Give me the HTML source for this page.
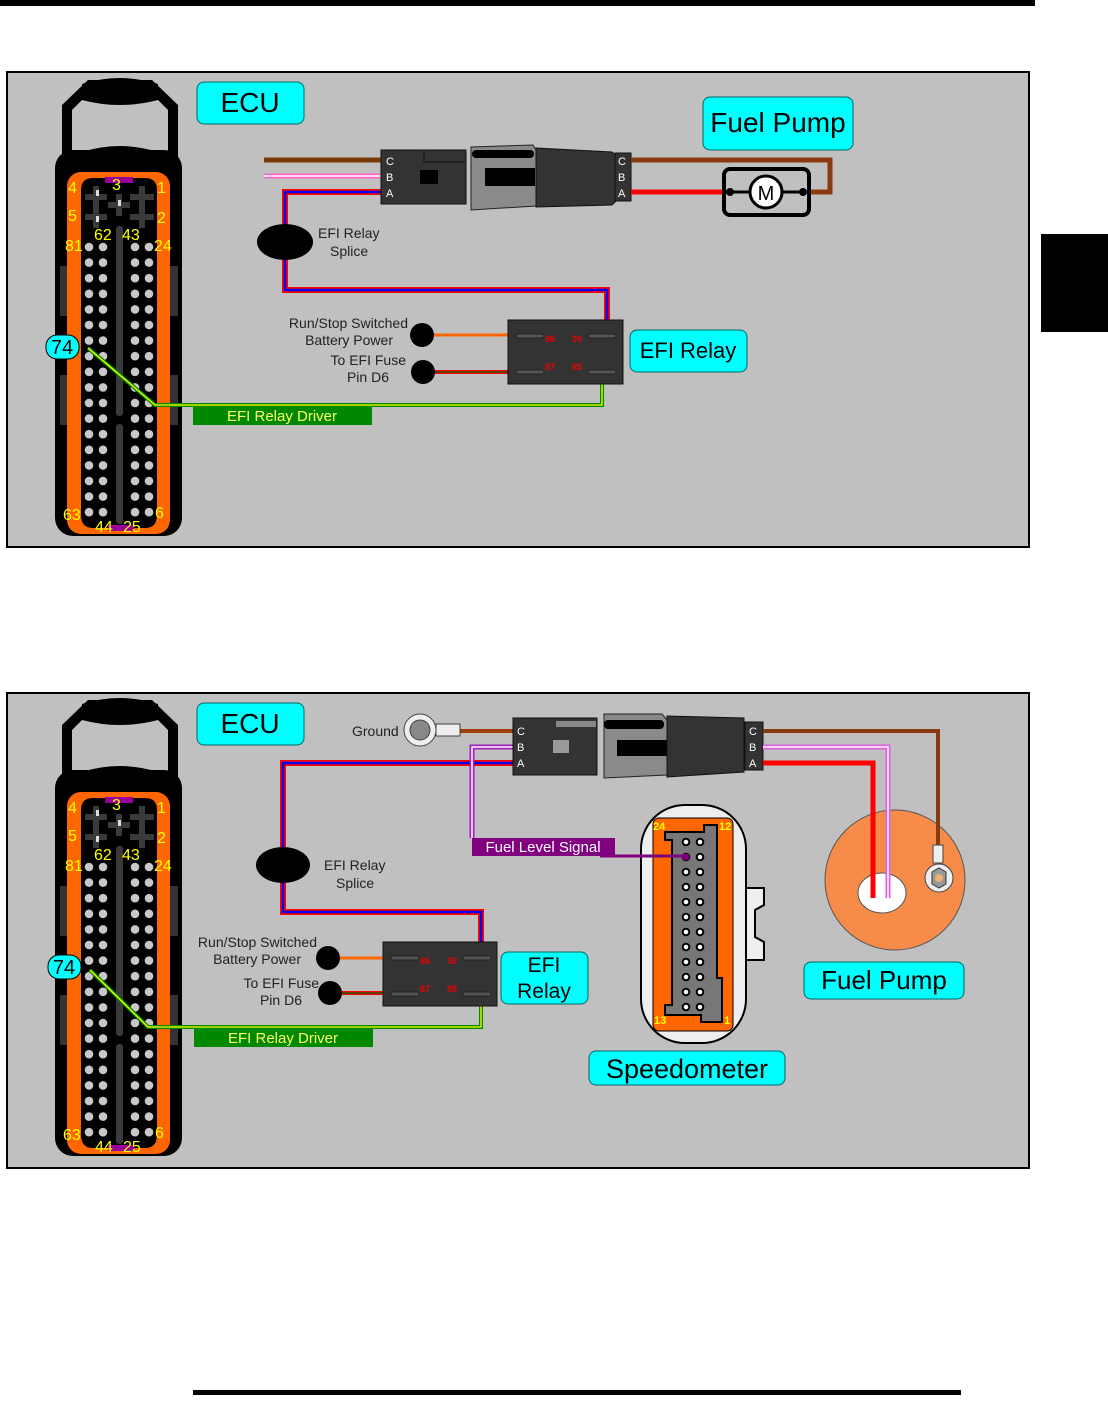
<!DOCTYPE html>
<html><head><meta charset="utf-8"><style>
html,body{margin:0;padding:0;background:#fff}
svg{display:block}
text{font-family:"Liberation Sans",Arial,sans-serif}
</style></head><body>
<svg width="1108" height="1412" viewBox="0 0 1108 1412" xmlns="http://www.w3.org/2000/svg">
<defs>
<g id="ecu">
  <path d="M62,158 L62,105 L88,80 L152,80 L178,105 L178,158 L168,158 L168,110 L150,92 L90,92 L72,110 L72,158 Z" fill="#000"/>
  <path d="M82,84 Q120,72 158,84 L158,100 Q120,110 82,100 Z" fill="#000"/>
  <rect x="55" y="150" width="127" height="386" rx="18" fill="#000"/>
  <path d="M82,152 Q120,140 158,152 L158,165 L82,165 Z" fill="#000"/>
  <rect x="60" y="266" width="8" height="50" fill="#333"/>
  <rect x="170" y="266" width="8" height="50" fill="#333"/>
  <rect x="60" y="375" width="8" height="50" fill="#333"/>
  <rect x="170" y="375" width="8" height="50" fill="#333"/>
  <rect x="67" y="172" width="103" height="362" rx="14" fill="#ff6600"/>
  <path d="M81,190 Q81,178 93,178 L145,178 Q157,178 157,190 L157,515 Q157,528 145,528 L93,528 Q81,528 81,515 Z" fill="#000"/>
  <rect x="105" y="177" width="28" height="6" fill="#990099"/>
  <rect x="108" y="525" width="26" height="6" fill="#990099"/>
  <g fill="#3a3a3a">
    <rect x="85" y="194" width="22" height="6"/><rect x="93" y="186" width="6" height="22"/>
    <rect x="85" y="214" width="22" height="6"/><rect x="93" y="206" width="6" height="22"/>
    <rect x="108" y="202" width="22" height="6"/><rect x="116" y="194" width="6" height="22"/>
    <rect x="130" y="194" width="24" height="6"/><rect x="139" y="186" width="6" height="22"/>
    <rect x="130" y="214" width="24" height="6"/><rect x="139" y="206" width="6" height="22"/>
    <rect x="116" y="226" width="7" height="190" rx="3"/>
    <rect x="116" y="424" width="7" height="100" rx="3"/>
  </g>
  <g fill="#ddd">
    <rect x="96" y="190" width="3" height="6"/><rect x="96" y="216" width="3" height="6"/><rect x="118" y="200" width="3" height="6"/>
  </g>
</g>
</defs>

<rect x="0" y="0" width="1035" height="6" fill="#000"/>
<rect x="1041" y="234" width="67" height="98" fill="#000"/>
<rect x="193" y="1390" width="768" height="5" fill="#000"/>

<!-- ================= PANEL 1 ================= -->
<rect x="7" y="72" width="1022" height="475" fill="#c0c0c0" stroke="#000" stroke-width="2"/>
<use href="#ecu"/>
<g fill="#c8c8c8" id="pingrid"></g>

<line x1="264" y1="160" x2="382" y2="160" stroke="#7a3a00" stroke-width="5"/>
<line x1="264" y1="176" x2="382" y2="176" stroke="#ff66cc" stroke-width="5"/>
<line x1="264" y1="176" x2="382" y2="176" stroke="#fff" stroke-width="1.5"/>
<polyline points="382,192 285,192 285,290 607,290 607,320" fill="none" stroke="#ff0000" stroke-width="6"/>
<polyline points="382,192 285,192 285,290 607,290 607,320" fill="none" stroke="#0000ee" stroke-width="2.5"/>
<ellipse cx="285" cy="242" rx="28" ry="18" fill="#000"/>
<text x="318" y="238" font-size="14" fill="#222">EFI Relay</text>
<text x="330" y="256" font-size="14" fill="#222">Splice</text>
<rect x="381" y="150" width="85" height="54" fill="#333" stroke="#111"/>
<rect x="424" y="150" width="42" height="12" fill="#333" stroke="#111"/>
<rect x="420" y="170" width="18" height="14" fill="#000"/>
<text x="386" y="165" font-size="11" fill="#fff">C</text>
<text x="386" y="181" font-size="11" fill="#fff">B</text>
<text x="386" y="197" font-size="11" fill="#fff">A</text>
<path d="M471,147 L533,145 L536,150 L536,206 L471,210 Z" fill="#8a8a8a" stroke="#222"/>
<rect x="472" y="150" width="62" height="8" rx="4" fill="#000"/>
<rect x="485" y="168" width="50" height="18" fill="#000"/>
<path d="M536,148 L612,152 L617,156 L617,200 L612,205 L536,207 Z" fill="#333" stroke="#111"/>
<rect x="615" y="153" width="16" height="48" fill="#333" stroke="#111"/>
<text x="618" y="165" font-size="11" fill="#fff">C</text>
<text x="618" y="181" font-size="11" fill="#fff">B</text>
<text x="618" y="197" font-size="11" fill="#fff">A</text>
<polyline points="631,160 830,160 830,192 808,192" fill="none" stroke="#8a3a10" stroke-width="5"/>
<line x1="631" y1="192" x2="724" y2="192" stroke="#ff0000" stroke-width="5"/>
<rect x="724" y="169" width="85" height="46" rx="6" fill="none" stroke="#000" stroke-width="4"/>
<line x1="724" y1="192" x2="809" y2="192" stroke="#000" stroke-width="3"/>
<circle cx="730" cy="192" r="4" fill="#000"/><circle cx="803" cy="192" r="4" fill="#000"/>
<circle cx="766" cy="192" r="16" fill="#fff" stroke="#000" stroke-width="3"/>
<text x="766" y="200" font-size="20" fill="#000" text-anchor="middle">M</text>
<line x1="422" y1="335" x2="508" y2="335" stroke="#ff6600" stroke-width="3"/>
<line x1="422" y1="372" x2="508" y2="372" stroke="#ff0000" stroke-width="4"/>
<line x1="422" y1="372" x2="508" y2="372" stroke="#006600" stroke-width="1.2"/>
<circle cx="422" cy="335" r="12" fill="#000"/>
<circle cx="423" cy="372" r="12" fill="#000"/>
<text x="408" y="328" font-size="14" fill="#222" text-anchor="end">Run/Stop Switched</text>
<text x="393" y="345" font-size="14" fill="#222" text-anchor="end">Battery Power</text>
<text x="406" y="365" font-size="14" fill="#222" text-anchor="end">To EFI Fuse</text>
<text x="389" y="382" font-size="14" fill="#222" text-anchor="end">Pin D6</text>
<polyline points="602,384 602,405 155,405 88,348" fill="none" stroke="#008800" stroke-width="4"/>
<polyline points="602,384 602,405 155,405 88,348" fill="none" stroke="#ffff00" stroke-width="1.3"/>
<rect x="508" y="320" width="115" height="64" fill="#333" stroke="#111"/>
<g fill="#555" stroke="#222"><rect x="516" y="334" width="28" height="4" rx="2"/><rect x="588" y="334" width="28" height="4" rx="2"/><rect x="516" y="370" width="28" height="4" rx="2"/><rect x="588" y="370" width="28" height="4" rx="2"/></g>
<g font-size="9" font-weight="bold" fill="#ee0000"><text x="545" y="342">86</text><text x="572" y="342">30</text><text x="545" y="370">87</text><text x="572" y="370">85</text></g>
<rect x="197" y="82" width="107" height="42" rx="7" fill="#00ffff" stroke="#006666"/>
<text x="250" y="112" font-size="28" text-anchor="middle" fill="#000">ECU</text>
<rect x="703" y="97" width="150" height="53" rx="7" fill="#00ffff" stroke="#006666"/>
<text x="778" y="132" font-size="28" text-anchor="middle" fill="#000">Fuel Pump</text>
<rect x="630" y="330" width="117" height="42" rx="7" fill="#00ffff" stroke="#006666"/>
<text x="688" y="358" font-size="22" text-anchor="middle" fill="#000">EFI Relay</text>
<rect x="193" y="407" width="179" height="18" fill="#008800"/>
<text x="282" y="421" font-size="15" text-anchor="middle" fill="#ffff66">EFI Relay Driver</text>
<rect x="46" y="335" width="33" height="24" rx="11" fill="#00ffff" stroke="#000"/>
<text x="62" y="354" font-size="20" text-anchor="middle" fill="#000">74</text>
<g font-size="16" fill="#ffff00">
<text x="68" y="193">4</text><text x="112" y="190">3</text><text x="157" y="193">1</text>
<text x="68" y="221">5</text><text x="157" y="223">2</text>
<text x="65" y="251">81</text><text x="94" y="240">62</text><text x="122" y="240">43</text><text x="154" y="251">24</text>
<text x="63" y="520">63</text><text x="155" y="518">6</text><text x="95" y="532">44</text><text x="123" y="532">25</text>
</g>

<!-- ================= PANEL 2 ================= -->
<rect x="7" y="693" width="1022" height="475" fill="#c0c0c0" stroke="#000" stroke-width="2"/>
<use href="#ecu" y="620"/>
<g id="pingrid2" fill="#c8c8c8"></g>

<polyline points="460,731 513,731" fill="none" stroke="#a0400a" stroke-width="4"/>
<text x="352" y="736" font-size="14" fill="#222">Ground</text>
<circle cx="420" cy="730" r="16" fill="#eee" stroke="#444"/>
<circle cx="420" cy="730" r="10" fill="#888" stroke="#444"/>
<rect x="436" y="724" width="24" height="12" fill="#eee" stroke="#444"/>
<polyline points="513,763 283,763 283,912 481,912 481,942" fill="none" stroke="#ff0000" stroke-width="6"/>
<polyline points="513,763 283,763 283,912 481,912 481,942" fill="none" stroke="#0000ee" stroke-width="2.5"/>
<polyline points="513,747 472,747 472,838" fill="none" stroke="#a020c0" stroke-width="5"/>
<polyline points="513,747 472,747 472,838" fill="none" stroke="#fff" stroke-width="1.5"/>
<ellipse cx="283" cy="865" rx="27" ry="18" fill="#000"/>
<text x="324" y="870" font-size="14" fill="#222">EFI Relay</text>
<text x="336" y="888" font-size="14" fill="#222">Splice</text>
<rect x="513" y="718" width="84" height="57" fill="#333" stroke="#111"/>
<rect x="556" y="721" width="40" height="6" fill="#888"/>
<rect x="553" y="740" width="16" height="13" fill="#999"/>
<text x="517" y="735" font-size="11" fill="#fff">C</text>
<text x="517" y="751" font-size="11" fill="#fff">B</text>
<text x="517" y="767" font-size="11" fill="#fff">A</text>
<path d="M604,714 L662,714 L667,720 L667,775 L604,778 Z" fill="#8a8a8a" stroke="#222"/>
<rect x="604" y="720" width="60" height="9" rx="4" fill="#000"/>
<rect x="617" y="740" width="50" height="16" fill="#000"/>
<path d="M667,716 L744,718 L744,772 L667,777 Z" fill="#333" stroke="#111"/>
<rect x="745" y="722" width="18" height="48" fill="#333" stroke="#111"/>
<text x="749" y="735" font-size="11" fill="#fff">C</text>
<text x="749" y="751" font-size="11" fill="#fff">B</text>
<text x="749" y="767" font-size="11" fill="#fff">A</text>
<!-- fuel pump -->
<circle cx="895" cy="880" r="70" fill="#f78c4a" stroke="#555"/>
<ellipse cx="882" cy="893" rx="24" ry="20" fill="#fff" stroke="#555"/>
<polyline points="763,731 938,731 938,848" fill="none" stroke="#8a3a10" stroke-width="4"/>
<polyline points="763,747 888,747 888,898" fill="none" stroke="#e060e0" stroke-width="5"/>
<polyline points="763,747 888,747 888,898" fill="none" stroke="#fff" stroke-width="1.5"/>
<polyline points="763,763 873,763 873,898" fill="none" stroke="#ff0000" stroke-width="5"/>
<rect x="933" y="845" width="10" height="18" fill="#eee" stroke="#444"/>
<circle cx="939" cy="878" r="14" fill="#eee" stroke="#444"/>
<polygon points="932,872 939,868 946,872 946,884 939,888 932,884" fill="#999" stroke="#333"/>
<circle cx="939" cy="878" r="4" fill="#f0b070"/>
<!-- speedometer -->
<path d="M746,888 L764,888 L764,905 L755,910 L755,937 L764,942 L764,960 L746,960 Z" fill="#eee" stroke="#000" stroke-width="2"/>
<rect x="641" y="805" width="105" height="238" rx="44" fill="#eee" stroke="#000" stroke-width="2"/>
<rect x="653" y="818" width="80" height="213" rx="6" fill="#ff6600" stroke="#000"/>
<path d="M665,832 L704,832 L704,825 L717,825 L717,978 L722,978 L722,1022 L701,1022 L701,1015 L665,1015 L665,1005 L672,1005 L672,840 L665,840 Z" fill="#777" stroke="#000" stroke-width="2"/>
<g fill="#fff" stroke="#000" stroke-width="2" id="spins"></g>
<line x1="600" y1="856" x2="686" y2="856" stroke="#800080" stroke-width="3"/>
<circle cx="686" cy="857" r="3.5" fill="#800080"/>
<g font-size="11" fill="#ffff00" font-weight="bold"><text x="653" y="830">24</text><text x="719" y="830">12</text><text x="654" y="1024">13</text><text x="724" y="1024">1</text></g>
<!-- relay 2 -->
<line x1="330" y1="958" x2="383" y2="958" stroke="#ff6600" stroke-width="3"/>
<line x1="330" y1="993" x2="383" y2="993" stroke="#ff0000" stroke-width="4"/>
<line x1="330" y1="993" x2="383" y2="993" stroke="#006600" stroke-width="1.2"/>
<circle cx="328" cy="958" r="12" fill="#000"/>
<circle cx="330" cy="993" r="12" fill="#000"/>
<text x="317" y="947" font-size="14" fill="#222" text-anchor="end">Run/Stop Switched</text>
<text x="301" y="964" font-size="14" fill="#222" text-anchor="end">Battery Power</text>
<text x="319" y="988" font-size="14" fill="#222" text-anchor="end">To EFI Fuse</text>
<text x="302" y="1005" font-size="14" fill="#222" text-anchor="end">Pin D6</text>
<polyline points="481,1006 481,1027 148,1027 90,970" fill="none" stroke="#008800" stroke-width="4"/>
<polyline points="481,1006 481,1027 148,1027 90,970" fill="none" stroke="#ffff00" stroke-width="1.3"/>
<rect x="383" y="942" width="114" height="64" fill="#333" stroke="#111"/>
<g fill="#555" stroke="#222"><rect x="391" y="956" width="28" height="4" rx="2"/><rect x="463" y="956" width="28" height="4" rx="2"/><rect x="391" y="992" width="28" height="4" rx="2"/><rect x="463" y="992" width="28" height="4" rx="2"/></g>
<g font-size="9" font-weight="bold" fill="#ee0000"><text x="420" y="964">86</text><text x="447" y="964">30</text><text x="420" y="992">87</text><text x="447" y="992">85</text></g>
<rect x="197" y="703" width="107" height="42" rx="7" fill="#00ffff" stroke="#006666"/>
<text x="250" y="733" font-size="28" text-anchor="middle" fill="#000">ECU</text>
<rect x="472" y="838" width="143" height="18" fill="#800080"/>
<text x="543" y="852" font-size="15" text-anchor="middle" fill="#fff">Fuel Level Signal</text>
<rect x="501" y="952" width="87" height="52" rx="7" fill="#00ffff" stroke="#006666"/>
<text x="544" y="972" font-size="21" text-anchor="middle" fill="#000">EFI</text>
<text x="544" y="998" font-size="21" text-anchor="middle" fill="#000">Relay</text>
<rect x="804" y="962" width="160" height="37" rx="7" fill="#00ffff" stroke="#006666"/>
<text x="884" y="989" font-size="26" text-anchor="middle" fill="#000">Fuel Pump</text>
<rect x="589" y="1051" width="196" height="34" rx="7" fill="#00ffff" stroke="#006666"/>
<text x="687" y="1078" font-size="27" text-anchor="middle" fill="#000">Speedometer</text>
<rect x="194" y="1029" width="179" height="18" fill="#008800"/>
<text x="283" y="1043" font-size="15" text-anchor="middle" fill="#ffff66">EFI Relay Driver</text>
<rect x="48" y="955" width="33" height="24" rx="11" fill="#00ffff" stroke="#000"/>
<text x="64" y="974" font-size="20" text-anchor="middle" fill="#000">74</text>
<g font-size="16" fill="#ffff00">
<text x="68" y="813">4</text><text x="112" y="810">3</text><text x="157" y="813">1</text>
<text x="68" y="841">5</text><text x="157" y="843">2</text>
<text x="65" y="871">81</text><text x="94" y="860">62</text><text x="122" y="860">43</text><text x="154" y="871">24</text>
<text x="63" y="1140">63</text><text x="155" y="1138">6</text><text x="95" y="1152">44</text><text x="123" y="1152">25</text>
</g>
</svg>
<script>
(function(){
var ns="http://www.w3.org/2000/svg";
function pins(id,dy){var g=document.getElementById(id);
for(var r=0;r<18;r++){[89,103,135,149].forEach(function(x){var c=document.createElementNS(ns,"circle");c.setAttribute("cx",x);c.setAttribute("cy",247+r*15.6+dy);c.setAttribute("r",4.3);g.appendChild(c);});}}
pins("pingrid",0);pins("pingrid2",620);
var sp=document.getElementById("spins");
for(var r=0;r<12;r++){[686,700].forEach(function(x){var c=document.createElementNS(ns,"circle");c.setAttribute("cx",x);c.setAttribute("cy",842+r*15);c.setAttribute("r",3.3);sp.appendChild(c);});}
})();
</script>
</body></html>
